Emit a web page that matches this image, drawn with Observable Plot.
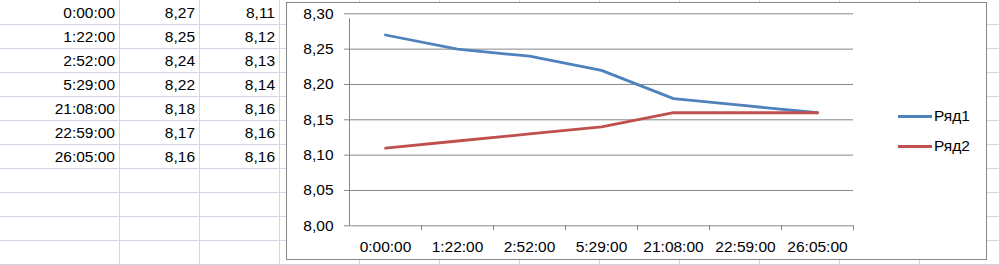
<!DOCTYPE html>
<html>
<head>
<meta charset="utf-8">
<script src="https://cdn.jsdelivr.net/npm/d3@7"></script>
<script src="https://cdn.jsdelivr.net/npm/@observablehq/plot@0.6"></script>
<style>
  html, body { margin: 0; padding: 0; background: #fff; }
  #wrap { position: relative; width: 1000px; height: 265px; overflow: hidden; font-family: "Liberation Sans", Arial, sans-serif; font-size: 15.5px; color: #000; }
  .gv { position: absolute; top: 0; width: 1px; height: 265px; background: #D0D7E5; }
  .gh { position: absolute; left: 0; height: 1px; width: 1000px; background: #D0D7E5; }
  .cell { position: absolute; text-align: right; width: 80px; height: 24px; line-height: 24px; white-space: nowrap; }
  #chartbox { position: absolute; left: 286px; top: 2px; width: 701px; height: 258px; box-sizing: border-box; border: 1px solid #868686; background: #fff; }
  #plot { position: absolute; left: 0; top: 0; }
  .leg { position: absolute; }
  .legline { position: absolute; height: 3px; }
  .legtext { position: absolute; line-height: 20px; white-space: nowrap; }
</style>
</head>
<body>
<div id="wrap"></div>
<script>
// ---- data ----
const times = ["0:00:00", "1:22:00", "2:52:00", "5:29:00", "21:08:00", "22:59:00", "26:05:00"];
const series1 = [8.27, 8.25, 8.24, 8.22, 8.18, 8.17, 8.16];
const series2 = [8.11, 8.12, 8.13, 8.14, 8.16, 8.16, 8.16];
const seriesNames = ["Ряд1", "Ряд2"];
const seriesColors = ["#4F81BD", "#C0504D"];
const yTicks = [8.00, 8.05, 8.10, 8.15, 8.20, 8.25, 8.30];

const fmt = v => v.toFixed(2).replace(".", ",");
const wrap = document.getElementById("wrap");

// ---- spreadsheet grid ----
for (let x = 119; x < 1000; x += 80) {
  const d = document.createElement("div"); d.className = "gv"; d.style.left = x + "px"; wrap.appendChild(d);
}
for (let y = 24; y < 265; y += 24) {
  const d = document.createElement("div"); d.className = "gh"; d.style.top = y + "px"; wrap.appendChild(d);
}
// ---- spreadsheet cells ----
const cols = [times, series1.map(fmt), series2.map(fmt)];
cols.forEach((col, c) => {
  col.forEach((txt, r) => {
    const d = document.createElement("div");
    d.className = "cell";
    d.textContent = txt;
    d.style.left = (39 + 80 * c - 4) + "px";
    d.style.top = (24 * r + 1) + "px";
    wrap.appendChild(d);
  });
});

// ---- chart box ----
const box = document.createElement("div"); box.id = "chartbox"; wrap.appendChild(box);

// ---- plot ----
const W = 1000, H = 265, mL = 349, mR = 147, mT = 13.3, mB = 39.7;
const half = (W - mL - mR) / times.length / 2;
const rows = times.map((t, i) => ({time: t, v1: series1[i], v2: series2[i]}));
const grey = "#868686";

const chart = Plot.plot({
  width: W, height: H,
  marginLeft: mL, marginRight: mR, marginTop: mT, marginBottom: mB,
  style: {background: "transparent", fontFamily: "Liberation Sans, Arial, sans-serif", fontSize: "15.5px", color: "#000"},
  x: {type: "point", domain: times, padding: 0.5, label: null},
  y: {domain: [8.0, 8.3], label: null},
  marks: [
    Plot.ruleY(yTicks, {stroke: grey, strokeWidth: 1}),
    Plot.ruleX([times[0]], {dx: -half, y1: 8.0, y2: 8.3, insetBottom: -5, stroke: grey}),
    Plot.ruleX(times, {dx: half, y1: 8.0, y2: 8.0, insetBottom: -5, stroke: grey}),
    Plot.axisY(yTicks, {tickSize: 5, text: null, stroke: grey}),
    Plot.axisY(yTicks, {tickSize: 0, tickPadding: 16, tickFormat: fmt, fill: "#000"}),
    Plot.axisX({tickSize: 0, tickPadding: 15, fill: "#000"}),
    Plot.line(rows, {x: "time", y: "v1", stroke: seriesColors[0], strokeWidth: 2.8}),
    Plot.line(rows, {x: "time", y: "v2", stroke: seriesColors[1], strokeWidth: 2.8})
  ]
});
chart.id = "plot";
wrap.appendChild(chart);

// ---- legend ----
seriesNames.forEach((name, i) => {
  const cy = 116 + i * 30;
  const l = document.createElement("div");
  l.className = "legline";
  l.style.left = "898px"; l.style.width = "34px"; l.style.top = (cy - 1.5) + "px";
  l.style.background = seriesColors[i];
  wrap.appendChild(l);
  const t = document.createElement("div");
  t.className = "legtext";
  t.textContent = name;
  t.style.left = "934px"; t.style.top = (cy - 10) + "px";
  wrap.appendChild(t);
});
</script>
</body>
</html>
